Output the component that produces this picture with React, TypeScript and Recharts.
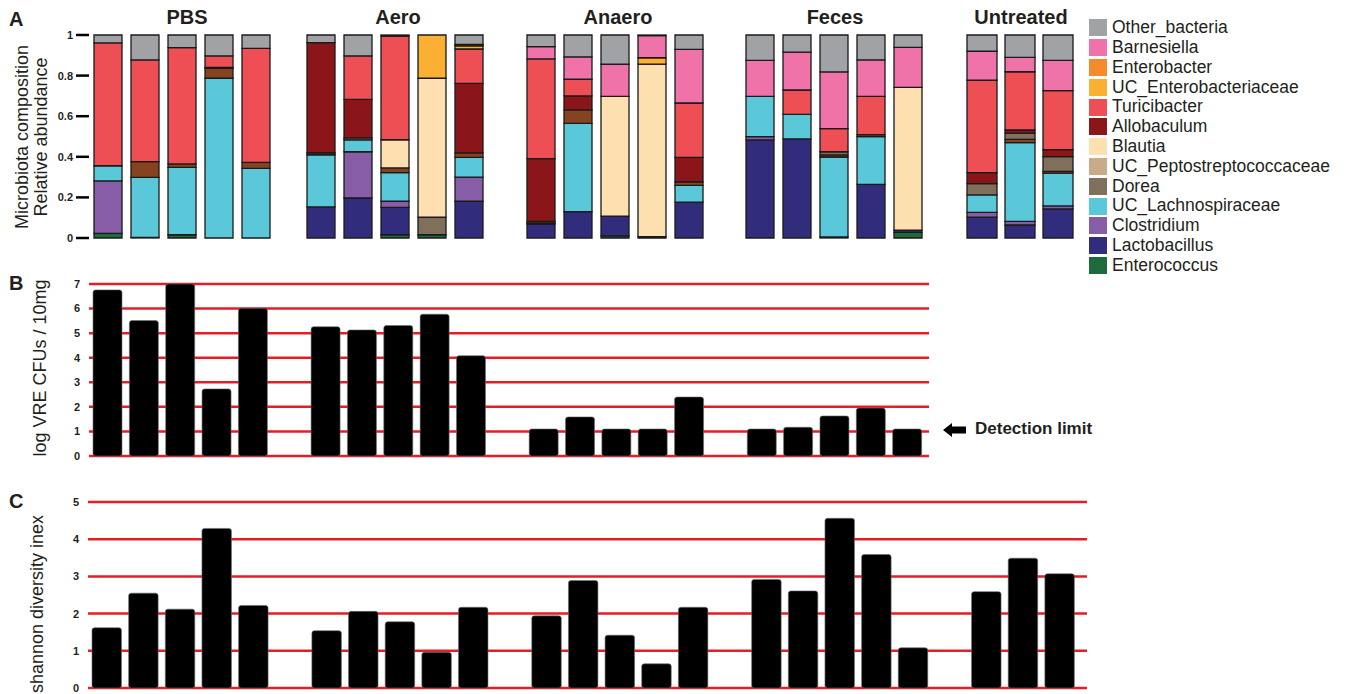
import React from 'react';
import { BarChart, Bar, XAxis, YAxis, CartesianGrid } from 'recharts';

const FONT = 'Arial, "Liberation Sans", Helvetica, sans-serif';
const INK = '#231f20';
const GRID_RED = '#e41e26';

// stacking order, bottom segment first
const TAXA = [
  'Enterococcus',
  'Lactobacillus',
  'Clostridium',
  'UC_Lachnospiraceae',
  'UC_Peptostreptococcaceae',
  'Dorea',
  'Blautia',
  'Allobaculum',
  'Turicibacter',
  'UC_Enterobacteriaceae',
  'Enterobacter',
  'Barnesiella',
  'Other_bacteria',
];
const TAXA_FILLS = [
  '#1d6b3a',
  '#312d7c',
  '#875da8',
  '#5bc8da',
  '#85431f',
  '#7f6f5b',
  '#fddfb0',
  '#8a1619',
  '#ee4f54',
  '#fbb034',
  '#f58a2a',
  '#ef72a8',
  '#a0a2a6',
];

// legend rows, top first
const LEGEND_NAMES = [
  'Other_bacteria',
  'Barnesiella',
  'Enterobacter',
  'UC_Enterobacteriaceae',
  'Turicibacter',
  'Allobaculum',
  'Blautia',
  'UC_Peptostreptococcaceae',
  'Dorea',
  'UC_Lachnospiraceae',
  'Clostridium',
  'Lactobacillus',
  'Enterococcus',
];
const LEGEND_SWATCHES = [
  '#a0a2a6',
  '#ef72a8',
  '#f58a2a',
  '#fbb034',
  '#ee4f54',
  '#8a1619',
  '#fddfb0',
  '#c9aa8b',
  '#7f6f5b',
  '#5bc8da',
  '#875da8',
  '#312d7c',
  '#1d6b3a',
];

// relative abundance per mouse, columns in TAXA order
const PBS_ABUNDANCE = [
  [0.023, 0, 0.258, 0.075, 0, 0, 0, 0, 0.605, 0, 0, 0, 0.039],
  [0.003, 0, 0, 0.296, 0.077, 0, 0, 0, 0.501, 0, 0, 0, 0.123],
  [0.016, 0, 0, 0.332, 0.017, 0, 0, 0, 0.573, 0, 0, 0, 0.062],
  [0, 0, 0, 0.787, 0.049, 0, 0, 0.005, 0.056, 0, 0, 0, 0.103],
  [0, 0, 0, 0.343, 0.03, 0, 0, 0, 0.561, 0, 0, 0, 0.066],
];
const AERO_ABUNDANCE = [
  [0, 0.153, 0, 0.257, 0.01, 0, 0, 0.542, 0, 0, 0, 0, 0.038],
  [0, 0.197, 0.228, 0.058, 0, 0.01, 0, 0.19, 0.214, 0, 0, 0, 0.103],
  [0.016, 0.135, 0.03, 0.141, 0.023, 0, 0.139, 0, 0.511, 0, 0, 0, 0.005],
  [0.016, 0, 0, 0, 0, 0.087, 0.684, 0, 0, 0.213, 0, 0, 0],
  [0, 0.181, 0.119, 0.097, 0.022, 0, 0, 0.343, 0.169, 0.016, 0.007, 0, 0.046],
];
const ANAERO_ABUNDANCE = [
  [0, 0.069, 0, 0.005, 0.008, 0, 0, 0.309, 0.491, 0, 0, 0.061, 0.057],
  [0, 0.13, 0, 0.435, 0.066, 0, 0, 0.069, 0.082, 0, 0, 0.11, 0.108],
  [0.01, 0.098, 0, 0, 0, 0, 0.59, 0, 0, 0, 0, 0.158, 0.144],
  [0, 0.007, 0, 0, 0, 0, 0.85, 0, 0, 0.031, 0, 0.109, 0.003],
  [0, 0.177, 0, 0.082, 0.018, 0, 0, 0.12, 0.268, 0, 0, 0.264, 0.071],
];
const FECES_ABUNDANCE = [
  [0, 0.483, 0.016, 0.199, 0, 0, 0, 0, 0, 0, 0, 0.177, 0.125],
  [0, 0.488, 0, 0.121, 0, 0, 0, 0, 0.12, 0, 0, 0.187, 0.084],
  [0, 0.005, 0, 0.394, 0.01, 0.016, 0, 0, 0.114, 0, 0, 0.279, 0.182],
  [0, 0.264, 0, 0.235, 0.01, 0, 0, 0, 0.189, 0, 0, 0.179, 0.123],
  [0.028, 0.011, 0, 0, 0, 0, 0.703, 0, 0, 0, 0, 0.197, 0.061],
];
const UNTREATED_ABUNDANCE = [
  [0, 0.103, 0.023, 0.086, 0, 0.056, 0, 0.054, 0.455, 0, 0, 0.143, 0.08],
  [0, 0.064, 0.018, 0.388, 0.016, 0.031, 0, 0.015, 0.287, 0, 0, 0.071, 0.11],
  [0, 0.143, 0.015, 0.162, 0.008, 0.073, 0, 0.034, 0.291, 0, 0, 0.149, 0.125],
];

const GROUP_NAMES = ['PBS', 'Aero', 'Anaero', 'Feces', 'Untreated'];
const ABUNDANCE_TICKS = [0, 0.2, 0.4, 0.6, 0.8, 1];

// log VRE CFUs / 10mg
const VRE_PBS = [6.76, 5.51, 7.0, 2.73, 6.01];
const VRE_AERO = [5.26, 5.13, 5.31, 5.77, 4.08];
const VRE_ANAERO = [1.1, 1.59, 1.1, 1.1, 2.4];
const VRE_FECES = [1.1, 1.17, 1.63, 1.95, 1.1];
const VRE_TICKS = [0, 1, 2, 3, 4, 5, 6, 7];

// shannon diversity
const SHANNON_PBS = [1.62, 2.55, 2.12, 4.29, 2.22];
const SHANNON_AERO = [1.54, 2.06, 1.78, 0.96, 2.17];
const SHANNON_ANAERO = [1.94, 2.89, 1.42, 0.65, 2.17];
const SHANNON_FECES = [2.92, 2.61, 4.56, 3.59, 1.08];
const SHANNON_UNTREATED = [2.59, 3.49, 3.07];
const SHANNON_TICKS = [0, 1, 2, 3, 4, 5];

type Row = Record<string, string | number | null>;

function compositionRows(matrix: number[][], group: string): Row[] {
  return matrix.map((vals, i) => {
    const row: Row = { sample: `${group} ${i + 1}` };
    TAXA.forEach((t, j) => {
      row[t] = vals[j];
    });
    return row;
  });
}

// one empty slot between groups keeps them apart on a shared axis
function slotRows(groups: number[][]): Row[] {
  const rows: Row[] = [];
  groups.forEach((vals, g) => {
    if (g > 0) rows.push({ sample: `gap ${g}`, value: null });
    vals.forEach((v, i) => rows.push({ sample: `${GROUP_NAMES[g]} ${i + 1}`, value: v }));
  });
  return rows;
}

const COMPOSITION = [
  PBS_ABUNDANCE,
  AERO_ABUNDANCE,
  ANAERO_ABUNDANCE,
  FECES_ABUNDANCE,
  UNTREATED_ABUNDANCE,
];

// left edge, width, bar width, title centre
const GROUP_LAYOUT = [
  { left: 0, width: 274, barSize: 28, titleX: 187 },
  { left: 301.5, width: 185, barSize: 28, titleX: 398 },
  { left: 521.5, width: 185, barSize: 28, titleX: 618 },
  { left: 741, width: 185, barSize: 28, titleX: 835 },
  { left: 963, width: 114, barSize: 30, titleX: 1021 },
];

const PAD = 8; // room above and below each plot for the end tick labels
const tickStyle = { fontSize: 11, fontWeight: 700, fill: INK, fontFamily: FONT };

function abs(left: number, top: number): React.CSSProperties {
  return { position: 'absolute', left, top };
}

function PanelLetter({ letter, top }: { letter: string; top: number }) {
  return (
    <div style={{ ...abs(9, top), fontSize: 20, fontWeight: 700, lineHeight: 1, color: INK }}>
      {letter}
    </div>
  );
}

function RotatedLabel({ text, cx, cy }: { text: string; cx: number; cy: number }) {
  return (
    <div
      style={{
        ...abs(cx, cy),
        fontSize: 18,
        lineHeight: 1,
        color: INK,
        whiteSpace: 'nowrap',
        transform: 'translate(-50%, -50%) rotate(-90deg)',
      }}
    >
      {text}
    </div>
  );
}

function CompositionGroup({ index }: { index: number }) {
  const layout = GROUP_LAYOUT[index];
  const withAxis = index === 0;
  const data = compositionRows(COMPOSITION[index], GROUP_NAMES[index]);
  return (
    <div style={abs(layout.left, 35 - PAD)}>
      <BarChart
        width={layout.width}
        height={203 + 2 * PAD}
        data={data}
        barSize={layout.barSize}
        margin={{ top: PAD, right: 0, bottom: PAD, left: 0 }}
      >
        <XAxis dataKey="sample" hide />
        <YAxis
          hide={!withAxis}
          width={89}
          domain={[0, 1]}
          ticks={ABUNDANCE_TICKS}
          interval={0}
          tickFormatter={(v: number) => (v === 0 ? '0' : v === 1 ? '1' : v.toFixed(1))}
          axisLine={false}
          tickLine={{ stroke: '#000', strokeWidth: 2.5 }}
          tickSize={13}
          tickMargin={3}
          tick={tickStyle}
        />
        {TAXA.map((t, j) => (
          <Bar
            key={t}
            dataKey={t}
            stackId="taxa"
            fill={TAXA_FILLS[j]}
            stroke="#1a1a1a"
            strokeWidth={1.3}
            isAnimationActive={false}
          />
        ))}
      </BarChart>
    </div>
  );
}

function Legend() {
  return (
    <div style={abs(1089, 18)}>
      {LEGEND_NAMES.map((name, i) => (
        <div key={name} style={{ display: 'flex', alignItems: 'center', height: 19.8 }}>
          <div style={{ width: 18, height: 17, background: LEGEND_SWATCHES[i], flex: 'none' }} />
          <div style={{ marginLeft: 5, fontSize: 17.5, lineHeight: 1, color: INK, whiteSpace: 'nowrap' }}>
            {name}
          </div>
        </div>
      ))}
    </div>
  );
}

function RedGridBars({
  data,
  ticks,
  plotTop,
  width,
  plotHeight,
  axisWidth,
  padRight,
  barSize,
}: {
  data: Row[];
  ticks: number[];
  plotTop: number;
  width: number;
  plotHeight: number;
  axisWidth: number;
  padRight: number;
  barSize: number;
}) {
  return (
    <div style={abs(0, plotTop - PAD)}>
      <BarChart
        width={width}
        height={plotHeight + 2 * PAD}
        data={data}
        barSize={barSize}
        margin={{ top: PAD, right: 1, bottom: PAD, left: 0 }}
      >
        <CartesianGrid vertical={false} stroke={GRID_RED} strokeWidth={2.5} />
        <XAxis dataKey="sample" hide padding={{ left: 0, right: padRight }} />
        <YAxis
          width={axisWidth}
          domain={[ticks[0], ticks[ticks.length - 1]]}
          ticks={ticks}
          interval={0}
          axisLine={false}
          tickLine={false}
          tickSize={0}
          tickMargin={9}
          tick={tickStyle}
        />
        <Bar
          dataKey="value"
          fill="#000"
          stroke="#6d6d6d"
          strokeWidth={0.6}
          radius={2.5}
          isAnimationActive={false}
        />
      </BarChart>
    </div>
  );
}

export default function App() {
  const vreRows = slotRows([VRE_PBS, VRE_AERO, VRE_ANAERO, VRE_FECES]);
  const shannonRows = slotRows([
    SHANNON_PBS,
    SHANNON_AERO,
    SHANNON_ANAERO,
    SHANNON_FECES,
    SHANNON_UNTREATED,
  ]);

  return (
    <div
      style={{
        position: 'absolute',
        left: 0,
        top: 0,
        width: 1347,
        height: 694,
        background: '#fff',
        fontFamily: FONT,
        overflow: 'hidden',
      }}
    >
      {/* A: community composition */}
      <PanelLetter letter="A" top={9} />
      {GROUP_LAYOUT.map((g, i) => (
        <div
          key={GROUP_NAMES[i]}
          style={{
            ...abs(g.titleX, 6.5),
            transform: 'translateX(-50%)',
            fontSize: 20,
            fontWeight: 700,
            lineHeight: 1,
            color: INK,
            whiteSpace: 'nowrap',
          }}
        >
          {GROUP_NAMES[i]}
        </div>
      ))}
      <RotatedLabel text="Microbiota composition" cx={22} cy={137} />
      <RotatedLabel text="Relative abundance" cx={41} cy={137} />
      {GROUP_LAYOUT.map((_, i) => (
        <CompositionGroup key={i} index={i} />
      ))}
      <Legend />

      {/* B: VRE load */}
      <PanelLetter letter="B" top={273} />
      <RotatedLabel text="log VRE CFUs / 10mg" cx={40} cy={368} />
      <RedGridBars
        data={vreRows}
        ticks={VRE_TICKS}
        plotTop={284}
        width={930}
        plotHeight={172}
        axisWidth={89}
        padRight={4}
        barSize={29}
      />
      <svg style={abs(943, 423)} width={24} height={14} viewBox="0 0 24 14">
        <polygon points="0,7 9,0 9,3.5 23,3.5 23,10.5 9,10.5 9,14" fill="#000" />
      </svg>
      <div
        style={{
          ...abs(975, 419.5),
          fontSize: 17,
          fontWeight: 700,
          lineHeight: 1,
          color: INK,
          whiteSpace: 'nowrap',
        }}
      >
        Detection limit
      </div>

      {/* C: diversity */}
      <PanelLetter letter="C" top={491} />
      <RotatedLabel text="shannon diversity inex" cx={37} cy={604} />
      <RedGridBars
        data={shannonRows}
        ticks={SHANNON_TICKS}
        plotTop={502}
        width={1088}
        plotHeight={186}
        axisWidth={88}
        padRight={9.5}
        barSize={29.5}
      />
    </div>
  );
}
